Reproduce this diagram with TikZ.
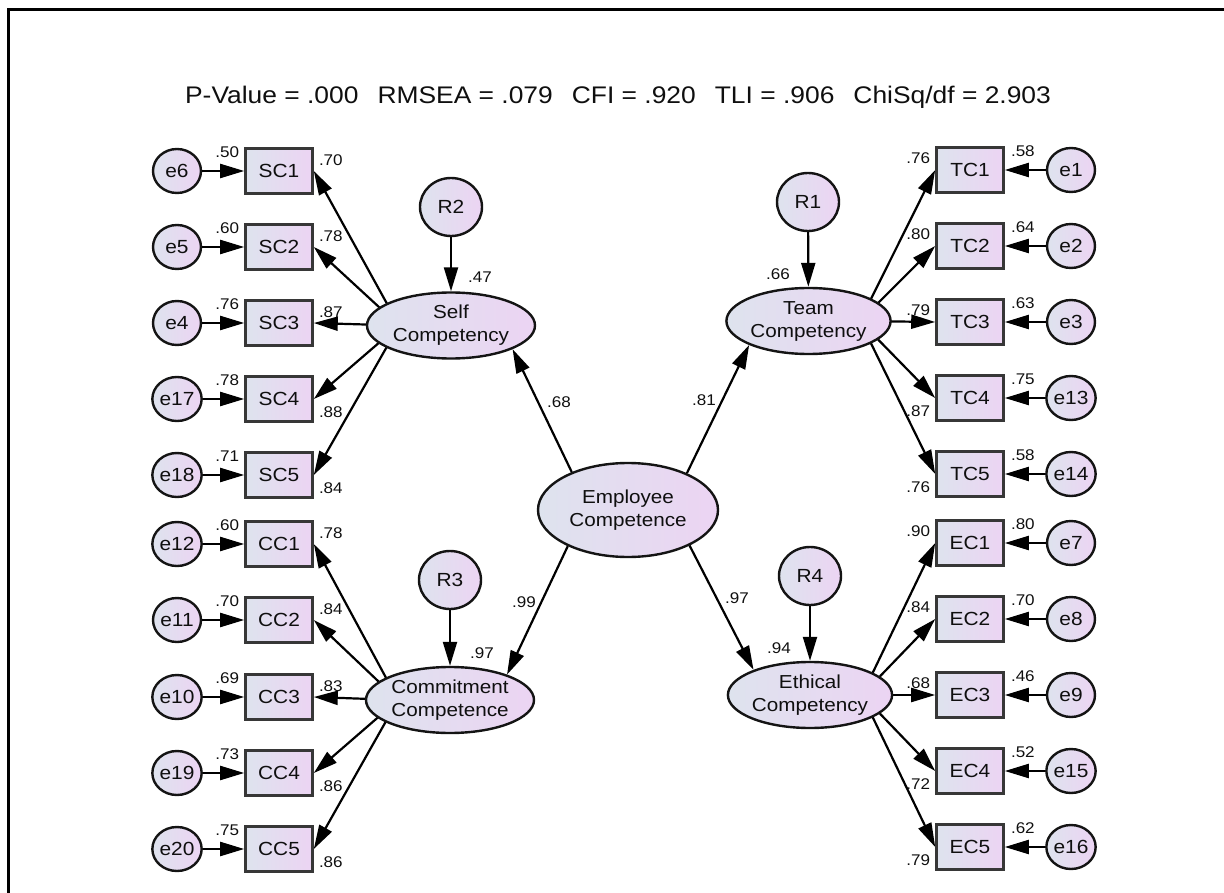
\documentclass[tikz,border=0pt]{standalone}
\usepackage{fontspec}
\setmainfont{Liberation Sans}[FakeStretch=1.1]
\usetikzlibrary{arrows.meta,calc,shapes.geometric}
\definecolor{fillL}{RGB}{222,227,238}
\definecolor{fillR}{RGB}{236,212,243}
\definecolor{edge}{RGB}{20,20,20}
\definecolor{ink}{RGB}{15,15,15}
\pgfdeclarelayer{bg}
\pgfsetlayers{bg,main}

\begin{document}
\begin{tikzpicture}[x=1pt,y=-1pt,
  grad/.style={left color=fillL,right color=fillR},
  obs/.style={grad,draw=edge!85,line width=2.6pt,minimum width=67pt,minimum height=45pt,
    inner sep=0pt,text=ink,font=\fontsize{19}{22}\selectfont},
  err/.style={ellipse,grad,draw=edge,line width=2.4pt,minimum width=48pt,minimum height=44pt,
    inner sep=0pt,text=ink,font=\fontsize{19}{22}\selectfont},
  res/.style={err,minimum width=62pt,minimum height=58pt},
  lat/.style={ellipse,grad,draw=edge,line width=2.4pt,inner sep=0pt,align=center,
    text=ink,font=\fontsize{18.8}{23}\selectfont},
  link/.style={line width=2.2pt,draw=black,-{Triangle[length=24pt,width=14pt]}},
  coef/.style={inner sep=0pt,text=ink,font=\fontsize{15.5}{17}\selectfont},
]
\useasboundingbox (0,0) rectangle (1224,893);

% frame
\draw[line width=3pt,black] (8.5,893) -- (8.5,9.5) -- (1224,9.5);

% fit indices
\node[anchor=base,inner sep=0pt,text=ink,font=\fontsize{24}{26}\selectfont] (fit) at (618,104)
  {P-Value = .000\hspace{19pt}RMSEA = .079\hspace{19pt}CFI = .920\hspace{19pt}TLI = .906\hspace{19pt}ChiSq/df = 2.903};

% latent variables
\node[lat,minimum width=168pt,minimum height=66pt] (Self)   at (451,325.5) {Self\\Competency};
\node[lat,minimum width=168pt,minimum height=66pt] (Commit) at (450,700)   {Commitment\\Competence};
\node[lat,minimum width=161pt,minimum height=66pt] (Team)   at (808.5,321) {Team\\Competency};
\node[lat,minimum width=162pt,minimum height=66pt] (Eth)    at (810,695)   {Ethical\\Competency};
\node[lat,minimum width=180pt,minimum height=94pt] (Emp)    at (628,510)   {Employee\\Competence};

% residuals of the latent variables
\node[res] (R2) at (451,207) {R2};
\node[res] (R3) at (450,580) {R3};
\node[res] (R1) at (808,202) {R1};
\node[res] (R4) at (810,576) {R4};

% points the loading lines fan out from
\coordinate (hS) at (399,325.5);
\coordinate (hC) at (398,700);
\coordinate (hT) at (860,321);
\coordinate (hE) at (862,695);

% left indicators: name/y/error/R2/loading/corner/offset/hub
\foreach \n/\y/\e/\r/\l/\c/\d/\h in {
  SC1/171/e6/.50/.70/north east/18/hS, SC2/247/e5/.60/.78/north east/18/hS,
  SC3/323/e4/.76/.87/north east/18/hS, SC4/399/e17/.78/.88/south east/-5/hS,
  SC5/475/e18/.71/.84/south east/-5/hS,
  CC1/544/e12/.60/.78/north east/18/hC, CC2/620/e11/.70/.84/north east/18/hC,
  CC3/697/e10/.69/.83/north east/18/hC, CC4/773/e19/.73/.86/south east/-5/hC,
  CC5/849/e20/.75/.86/south east/-5/hC}{
  \node[obs] (\n) at (279,\y) {\n};
  \node[err] (\e) at (177,\y) {\e};
  \draw[link] (\e) -- (\n);
  \begin{pgfonlayer}{bg}
    \draw[link] (\h) -- (\n.east);
  \end{pgfonlayer}
  \node[coef,anchor=base east] (r\n) at ($(\n.north west)+(-5,10)$) {\r};
  \node[coef,anchor=base west] (l\n) at ($(\n.\c)+(5,\d)$) {\l};
}

% right indicators
\foreach \n/\y/\e/\r/\l/\c/\d/\h in {
  TC1/170/e1/.58/.76/north west/17/hT, TC2/246/e2/.64/.80/north west/17/hT,
  TC3/322/e3/.63/.79/north west/17/hT, TC4/398/e13/.75/.87/south west/-5/hT,
  TC5/474/e14/.58/.76/south west/-5/hT,
  EC1/543/e7/.80/.90/north west/17/hE, EC2/619/e8/.70/.84/north west/17/hE,
  EC3/695/e9/.46/.68/north west/17/hE, EC4/771/e15/.52/.72/south west/-5/hE,
  EC5/847/e16/.62/.79/south west/-5/hE}{
  \node[obs] (\n) at (970,\y) {\n};
  \node[err] (\e) at (1071,\y) {\e};
  \draw[link] (\e) -- (\n);
  \begin{pgfonlayer}{bg}
    \draw[link] (\h) -- (\n.west);
  \end{pgfonlayer}
  \node[coef,anchor=base west] (r\n) at ($(\n.north east)+(6,10)$) {\r};
  \node[coef,anchor=base east] (l\n) at ($(\n.\c)+(-5,\d)$) {\l};
}

% residual paths
\draw[link] (R2) -- (Self);
\draw[link] (R3) -- (Commit);
\draw[link] (R1) -- (Team);
\draw[link] (R4) -- (Eth);

% structural paths
\draw[link] (Emp.146.5) -- (Self.-21);
\draw[link] (Emp.32)    -- (Team.-158);
\draw[link] (Emp.211)   -- (Commit.24);
\draw[link] (Emp.-30)   -- (Eth.156.5);

% squared multiple correlations of the latent variables
\node[coef,anchor=base west] (sSelf)   at (468,283) {.47};
\node[coef,anchor=base west] (sCommit) at (470,658) {.97};
\node[coef,anchor=base west] (sTeam)   at (766,280) {.66};
\node[coef,anchor=base west] (sEth)    at (767,653) {.94};

% structural weights
\node[coef,anchor=base west] (wSelf)   at (547,407) {.68};
\node[coef,anchor=base west] (wTeam)   at (692,405) {.81};
\node[coef,anchor=base west] (wCommit) at (512,607) {.99};
\node[coef,anchor=base west] (wEth)    at (725,603) {.97};
\end{tikzpicture}
\end{document}
